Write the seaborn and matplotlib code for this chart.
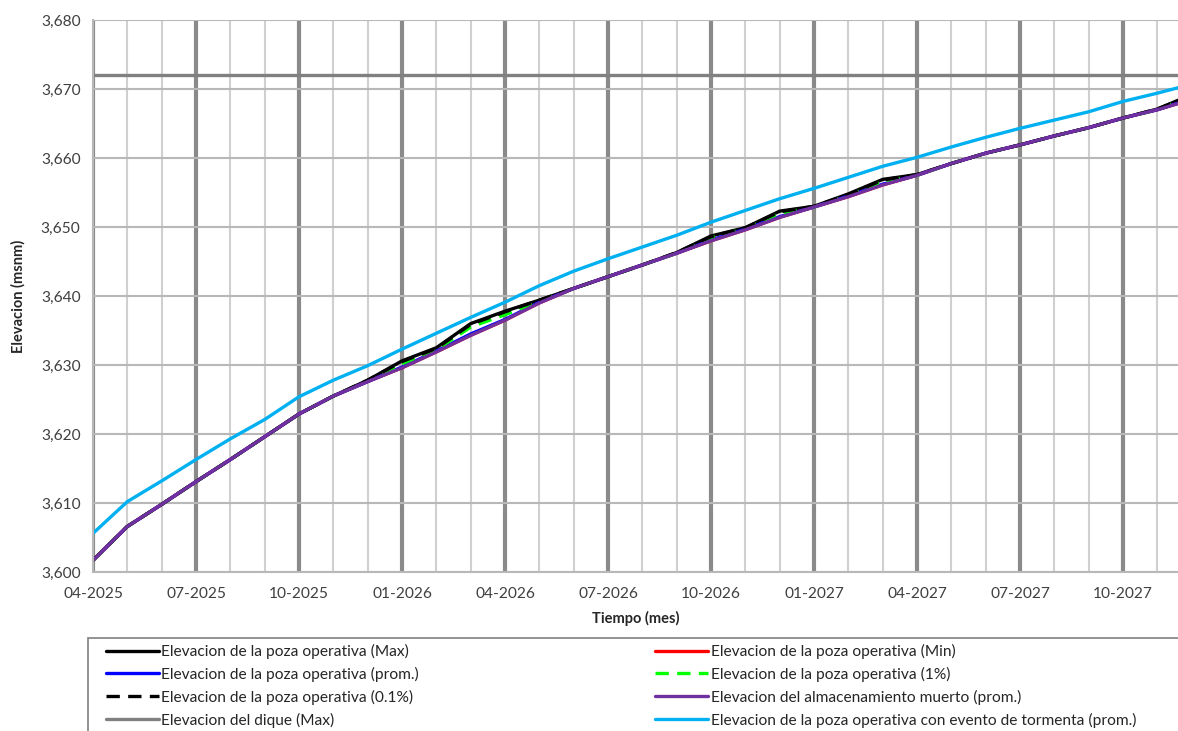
import matplotlib
matplotlib.use("Agg")
import matplotlib.pyplot as plt
import seaborn as sns
import numpy as np
import pandas as pd
from matplotlib.ticker import FuncFormatter, MultipleLocator
from matplotlib.patches import Rectangle

# ---------------- data ----------------
month_idx = list(range(33))  # 0 = 04-2025 ... 32 = 12-2027
major_labels = ["04-2025", "07-2025", "10-2025", "01-2026", "04-2026", "07-2026",
                "10-2026", "01-2027", "04-2027", "07-2027", "10-2027"]

muerto = [3601.7, 3606.6, 3609.8, 3613.1, 3616.3, 3619.6, 3622.9, 3625.5, 3627.6, 3629.6,
          3631.9, 3634.3, 3636.5, 3639.0, 3641.1, 3642.8, 3644.5, 3646.2, 3648.0, 3649.6,
          3651.4, 3652.9, 3654.4, 3656.1, 3657.5, 3659.2, 3660.7, 3661.9, 3663.2, 3664.4,
          3665.8, 3667.0, 3668.5]
tormenta = [3605.6, 3610.2, 3613.2, 3616.3, 3619.3, 3622.1, 3625.4, 3627.8, 3629.9, 3632.3,
            3634.6, 3636.9, 3639.1, 3641.5, 3643.6, 3645.4, 3647.1, 3648.8, 3650.7, 3652.4,
            3654.1, 3655.6, 3657.2, 3658.8, 3660.1, 3661.6, 3663.0, 3664.3, 3665.5, 3666.7,
            3668.2, 3669.4, 3670.7]
poza_max = [3601.7, 3606.6, 3609.8, 3613.1, 3616.3, 3619.6, 3622.9, 3625.5, 3627.8, 3630.6,
            3632.5, 3636.0, 3637.8, 3639.4, 3641.1, 3642.8, 3644.5, 3646.3, 3648.7, 3649.9,
            3652.3, 3653.0, 3654.8, 3656.9, 3657.6, 3659.2, 3660.7, 3661.9, 3663.2, 3664.4,
            3665.8, 3667.1, 3669.2]
poza_min = [3601.7, 3606.6, 3609.8, 3613.1, 3616.3, 3619.6, 3622.9, 3625.5, 3627.6, 3629.6,
            3631.9, 3634.3, 3636.5, 3639.0, 3641.1, 3642.8, 3644.5, 3646.2, 3648.0, 3649.6,
            3651.4, 3652.9, 3654.4, 3656.1, 3657.5, 3659.2, 3660.7, 3661.9, 3663.2, 3664.4,
            3665.8, 3667.0, 3668.5]
poza_prom = [3601.7, 3606.6, 3609.8, 3613.1, 3616.3, 3619.6, 3622.9, 3625.5, 3627.6, 3629.7,
             3632.0, 3634.5, 3636.6, 3639.1, 3641.1, 3642.8, 3644.5, 3646.2, 3648.1, 3649.7,
             3651.5, 3652.9, 3654.5, 3656.2, 3657.5, 3659.2, 3660.7, 3661.9, 3663.2, 3664.4,
             3665.8, 3667.0, 3668.6]
poza_1 = [3601.7, 3606.6, 3609.8, 3613.1, 3616.3, 3619.6, 3622.9, 3625.5, 3627.7, 3630.2,
          3632.2, 3635.5, 3637.3, 3639.2, 3641.1, 3642.8, 3644.5, 3646.2, 3648.5, 3649.8,
          3652.0, 3652.9, 3654.6, 3656.6, 3657.5, 3659.2, 3660.7, 3661.9, 3663.2, 3664.4,
          3665.8, 3667.0, 3669.0]
poza_01 = [3601.7, 3606.6, 3609.8, 3613.1, 3616.3, 3619.6, 3622.9, 3625.5, 3627.8, 3630.5,
           3632.4, 3635.9, 3637.7, 3639.4, 3641.1, 3642.8, 3644.5, 3646.3, 3648.6, 3649.9,
           3652.2, 3653.0, 3654.7, 3656.8, 3657.6, 3659.2, 3660.7, 3661.9, 3663.2, 3664.4,
           3665.8, 3667.1, 3669.1]
dique = [3672.0] * 33

series = [
    ("Elevacion de la poza operativa (Max)", poza_max, "#000000", "-"),
    ("Elevacion de la poza operativa (Min)", poza_min, "#FF0000", "-"),
    ("Elevacion de la poza operativa (prom.)", poza_prom, "#0000FF", "-"),
    ("Elevacion de la poza operativa (1%)", poza_1, "#00FF00", (0, (4, 2.5))),
    ("Elevacion de la poza operativa (0.1%)", poza_01, "#000000", (0, (4, 2.5))),
    ("Elevacion del almacenamiento muerto (prom.)", muerto, "#7030A0", "-"),
    ("Elevacion del dique (Max)", dique, "#808080", "-"),
    ("Elevacion de la poza operativa con evento de tormenta (prom.)", tormenta, "#00B0F0", "-"),
]

# ---------------- plot ----------------
sns.set_theme(style="white")
plt.rcParams["font.family"] = ["Lato", "DejaVu Sans"]

fig = plt.figure(figsize=(11.78, 7.31), dpi=100)
ax = fig.add_axes([93 / 1178, 1 - 572 / 731, 1 - 93 / 1178, (572 - 20) / 731])

handles = []
for name, vals, col, ls in series:
    df = pd.DataFrame({"mes": month_idx, "elev": vals})
    sns.lineplot(data=df, x="mes", y="elev", ax=ax, color=col, linewidth=2.4,
                 linestyle=ls, label=name, legend=False)
    handles.append(ax.lines[-1])

ax.set_xlim(0, 31.6)
ax.set_ylim(3600, 3680)
ax.xaxis.set_minor_locator(MultipleLocator(1))
ax.yaxis.set_major_locator(MultipleLocator(10))
ax.set_xticks(list(range(0, 31, 3)))
ax.set_xticklabels(major_labels)
ax.yaxis.set_major_formatter(FuncFormatter(lambda v, p: f"{int(v):,}"))

ax.grid(which="major", axis="x", color="#8a8a8a", linewidth=3, zorder=0)
ax.grid(which="minor", axis="x", color="#d0d0d0", linewidth=1.5, zorder=0)
ax.grid(which="major", axis="y", color="#b8b8b8", linewidth=1.5, zorder=0)
ax.set_axisbelow(True)

for s in ["top", "right"]:
    ax.spines[s].set_visible(False)
for s in ["left", "bottom"]:
    ax.spines[s].set_color("#b8b8b8")
    ax.spines[s].set_linewidth(1.5)

ax.tick_params(axis="both", which="major", direction="out", length=5, width=1.2,
               color="#b8b8b8", labelsize=11.2, labelcolor="#404040", pad=4)
ax.tick_params(axis="x", which="minor", length=0)
ax.tick_params(axis="x", which="major", pad=6)

ax.set_xlabel("Tiempo (mes)", fontsize=10.5, fontweight="bold", labelpad=7)
ax.set_ylabel("Elevacion (msnm)", fontsize=10.5, fontweight="bold", labelpad=11)

# legend frame (extends past the right edge like the reference)
fig.patches.append(Rectangle((88 / 1178, -0.02), 1.0, (731 - 638) / 731 + 0.02,
                             transform=fig.transFigure, fill=False,
                             edgecolor="#808080", linewidth=1.2))

# legend: row-major order like the reference (matplotlib fills columns first)
order = [0, 2, 4, 6, 1, 3, 5, 7]
leg = fig.legend(handles=[handles[i] for i in order],
                 labels=[series[i][0] for i in order], ncol=2,
                 loc="upper left",
                 bbox_to_anchor=(106 / 1178, 1 - 644 / 731),
                 fontsize=11.2, frameon=False,
                 handlelength=3.4, handletextpad=0.15, columnspacing=15.2,
                 labelspacing=0.5, borderpad=0, borderaxespad=0)

fig.savefig("out.png", dpi=100)
